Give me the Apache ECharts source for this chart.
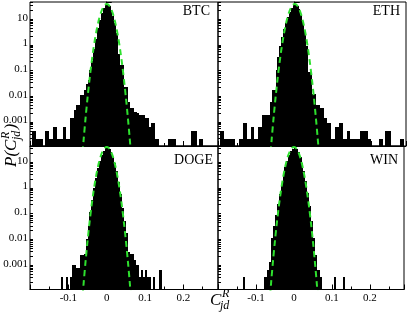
<!DOCTYPE html>
<html><head><meta charset="utf-8">
<script src="https://cdn.jsdelivr.net/npm/echarts@6/dist/echarts.min.js"></script>
<style>html,body{margin:0;padding:0;background:#fff}#c{width:407px;height:315px}</style>
</head><body><div id="c"></div>
<script>
// ---- data (bin left edge, probability density) ----
const BIN = 0.005;
const coins = ['BTC', 'ETH', 'DOGE', 'WIN'];
const btcBins = [[-0.195,3.8e-4],[-0.19,3.8e-4],[-0.185,1.8e-4],[-0.18,1.8e-4],[-0.175,1.8e-4],[-0.17,1.8e-4],
 [-0.16,3.8e-4],[-0.155,3.8e-4],[-0.15,1.8e-4],[-0.145,1.8e-4],[-0.14,5.6e-4],[-0.135,5.6e-4],[-0.13,1.8e-4],
 [-0.125,1.8e-4],[-0.12,1.8e-4],[-0.115,5.6e-4],[-0.11,5.6e-4],[-0.105,1.8e-4],[-0.1,1.8e-4],[-0.095,1.2e-3],
 [-0.09,1.2e-3],[-0.085,2.5e-3],[-0.08,3.9e-3],[-0.075,3.9e-3],[-0.07,9.5e-3],[-0.065,9.5e-3],[-0.06,0.015],
 [-0.055,0.025],[-0.05,0.036],[-0.045,0.09],[-0.04,0.215],[-0.035,0.6],[-0.03,1.5],[-0.025,4],[-0.02,8],
 [-0.015,15],[-0.01,24],[-0.005,32],[0,34],[0.005,28],[0.01,20],[0.015,12],[0.02,6],[0.025,2.5],[0.03,0.4],
 [0.035,0.138],[0.04,0.138],[0.045,0.02],[0.05,0.02],[0.055,0.0052],[0.06,0.0029],[0.065,0.0029],[0.07,0.0021],
 [0.075,0.0021],[0.08,0.0019],[0.085,0.0016],[0.09,0.0016],[0.095,0.0016],[0.1,0.0012],[0.105,0.0012],
 [0.11,5.6e-4],[0.115,8e-4],[0.12,8e-4],[0.125,1.8e-4],[0.13,1.8e-4],[0.16,1.8e-4],[0.165,1.8e-4],
 [0.17,1.8e-4],[0.175,1.8e-4],[0.22,3.8e-4],[0.225,3.8e-4],[0.23,3.8e-4],[0.24,1.8e-4],[0.245,1.8e-4]];
const ethBins = [[-0.195,3.8e-4],[-0.19,3.8e-4],[-0.185,1.8e-4],[-0.18,1.8e-4],[-0.175,1.8e-4],[-0.17,1.8e-4],
 [-0.165,1.8e-4],[-0.16,1.8e-4],[-0.145,1.8e-4],[-0.14,1.8e-4],[-0.135,8e-4],[-0.13,8e-4],[-0.125,1.8e-4],
 [-0.12,1.8e-4],[-0.115,5.6e-4],[-0.11,5.6e-4],[-0.105,1.8e-4],[-0.1,1.8e-4],[-0.095,5.6e-4],[-0.09,5.6e-4],
 [-0.085,1.6e-3],[-0.08,1.6e-3],[-0.075,1.6e-3],[-0.07,1.6e-3],[-0.065,5e-3],[-0.06,0.0148],[-0.055,0.0148],
 [-0.05,0.093],[-0.045,0.3],[-0.04,0.82],[-0.035,1.8],[-0.03,3.5],[-0.025,6.5],[-0.02,11],[-0.015,17],
 [-0.01,25],[-0.005,32],[0,34],[0.005,29],[0.01,21],[0.015,13],[0.02,7],[0.025,3],[0.03,0.82],[0.035,0.076],
 [0.04,0.076],[0.045,0.011],[0.05,0.011],[0.055,0.0039],[0.06,0.0039],[0.065,0.0029],[0.07,0.0029],
 [0.075,1.2e-3],[0.08,1.2e-3],[0.085,8e-4],[0.09,8e-4],[0.095,1.8e-4],[0.1,1.8e-4],[0.105,5.6e-4],
 [0.11,5.6e-4],[0.115,8e-4],[0.12,8e-4],[0.125,1.8e-4],[0.13,1.8e-4],[0.135,3.8e-4],[0.14,3.8e-4],
 [0.145,1.8e-4],[0.15,1.8e-4],[0.155,1.8e-4],[0.16,1.8e-4],[0.165,1.8e-4],[0.17,3.8e-4],[0.175,3.8e-4],
 [0.18,3.8e-4],[0.185,3.8e-4],[0.19,1.8e-4],[0.195,1.8e-4],[0.22,1.8e-4],[0.225,1.8e-4],[0.235,3.8e-4],
 [0.24,3.8e-4],[0.245,3.8e-4],[0.275,1.8e-4],[0.28,1.8e-4]];
const dogeBins = [[-0.12,3e-4],[-0.105,3e-4],[-0.095,3e-4],[-0.09,8.8e-4],[-0.085,8.8e-4],[-0.08,7e-4],
 [-0.075,7e-4],[-0.07,2.1e-3],[-0.065,2.1e-3],[-0.06,2.4e-3],[-0.055,9.5e-3],[-0.05,0.03],[-0.045,0.1],
 [-0.04,0.3],[-0.035,0.9],[-0.03,2.2],[-0.025,5],[-0.02,9.5],[-0.015,16],[-0.01,24],[-0.005,30],[0,32],
 [0.005,29],[0.01,22],[0.015,14],[0.02,8],[0.025,3.8],[0.03,1.5],[0.035,0.5],[0.04,0.15],[0.045,0.045],
 [0.05,0.015],[0.055,2.9e-3],[0.06,2.4e-3],[0.065,2.4e-3],[0.07,1.4e-3],[0.075,8.8e-4],[0.08,8.8e-4],
 [0.085,3e-4],[0.09,5.5e-4],[0.095,3e-4],[0.1,5.5e-4],[0.105,3e-4],[0.11,3e-4],[0.12,3e-4],[0.135,5.5e-4],
 [0.14,5.5e-4]];
const winBins = [[-0.135,3e-4],[-0.08,3e-4],[-0.075,3e-4],[-0.07,5.5e-4],[-0.065,1.2e-3],[-0.06,0.01],
 [-0.055,0.03],[-0.05,0.08],[-0.045,0.2],[-0.04,0.5],[-0.035,1.2],[-0.03,2.6],[-0.025,5.5],[-0.02,10],
 [-0.015,16],[-0.01,23],[-0.005,29],[0,32],[0.005,29],[0.01,22],[0.015,14],[0.02,8],[0.025,4],[0.03,1.6],
 [0.035,0.55],[0.04,0.17],[0.045,0.045],[0.05,0.01],[0.055,2.1e-3],[0.06,5.5e-4],[0.065,5.5e-4],
 [0.07,3e-4],[0.105,3e-4],[0.13,3e-4]];
// Gaussian fit (dashed green)
const fitX = [-0.065,-0.06,-0.055,-0.05,-0.045,-0.04,-0.035,-0.03,-0.025,-0.02,-0.015,-0.01,-0.005,0,
  0.005,0.01,0.015,0.02,0.025,0.03,0.035,0.04,0.045,0.05,0.055,0.06,0.065];
const fitP = [2.3e-5,1.9e-4,1.31e-3,7.65e-3,0.0378,0.157,0.555,1.66,4.17,8.87,16.0,24.3,31.3,34,
  31.3,24.3,16.0,8.87,4.17,1.66,0.555,0.157,0.0378,7.65e-3,1.31e-3,1.9e-4,2.3e-5];
const xTickValues = [-0.1, 0, 0.1, 0.2];
const xTickLabels = ['-0.1', '0', '0.1', '0.2'];
const yTickExps = [-3, -2, -1, 0, 1];
const yTickLabels = ['0.001', '0.01', '0.1', '1', '10'];
const minorMantissa = [2, 3, 4, 5, 6, 7, 8, 9];

const allBins = [btcBins, ethBins, dogeBins, winBins];
const X_MIN = -0.2, X_MAX = 0.29, Y_MIN = 1e-4;
const yMax = [41, 41, 37, 37];
const grids = [
  {left: 30, top: 2, width: 188, height: 144},
  {left: 218, top: 2, width: 188, height: 144},
  {left: 30, top: 146, width: 188, height: 143.5},
  {left: 218, top: 146, width: 188, height: 143.5}
];
const FONT = '"Liberation Serif", "DejaVu Serif", serif';

const chart = echarts.init(document.getElementById('c'), null, {renderer: 'canvas'});
const xAxes = [], yAxes = [], series = [];
for (let i = 0; i < 4; i++) {
  xAxes.push({
    type: 'value', gridIndex: i, min: X_MIN, max: X_MAX, interval: 0.1,
    axisLine: {show: true, onZero: false, lineStyle: {color: '#000', width: 1}},
    axisTick: {show: true, inside: true, length: 5, lineStyle: {color: '#000', width: 1}},
    minorTick: {show: true, splitNumber: 2, length: 3, lineStyle: {color: '#000', width: 1}},
    splitLine: {show: false},
    axisLabel: {
      show: i >= 2, margin: 3, color: '#000', fontFamily: FONT, fontSize: 11,
      formatter: v => {
        const k = xTickValues.findIndex(t => Math.abs(t - v) < 1e-6);
        return k >= 0 ? xTickLabels[k] : '';
      }
    }
  });
  yAxes.push({
    type: 'log', logBase: 10, gridIndex: i, min: Y_MIN, max: yMax[i],
    axisLine: {show: true, lineStyle: {color: '#000', width: 1}},
    axisTick: {show: true, inside: true, length: 5, lineStyle: {color: '#000', width: 1}},
    splitLine: {show: false},
    axisLabel: {
      show: i % 2 === 0, margin: 2, color: '#000', fontFamily: FONT, fontSize: 11,
      formatter: v => {
        const e = Math.log10(v), r = Math.round(e);
        if (Math.abs(e - r) > 1e-6) return '';
        const k = yTickExps.indexOf(r);
        return k >= 0 ? yTickLabels[k] : '';
      }
    }
  });
  // histogram bars (edges snapped to whole pixels so neighbouring bins join without seams)
  series.push({
    type: 'custom', xAxisIndex: i, yAxisIndex: i, clip: true, z: 2,
    data: allBins[i].map(b => [b[0], b[0] + BIN, b[1]]),
    encode: {x: [0, 1], y: 2},
    renderItem: (params, api) => {
      const p0 = api.coord([api.value(0), api.value(2)]);
      const p1 = api.coord([api.value(1), Y_MIN]);
      const x0 = Math.round(p0[0]), x1 = Math.round(p1[0]);
      const y0 = Math.round(p0[1]), y1 = Math.round(p1[1]);
      return {
        type: 'rect',
        shape: {x: x0, y: y0, width: x1 - x0, height: y1 - y0},
        style: {fill: '#000'}
      };
    }
  });
  // log minor ticks on the y axis
  const minors = [];
  for (let d = -4; d <= 1; d++) minorMantissa.forEach(m => { const v = m * Math.pow(10, d); if (v < yMax[i]) minors.push([X_MIN, v]); });
  series.push({
    type: 'custom', xAxisIndex: i, yAxisIndex: i, z: 1, silent: true,
    data: minors, encode: {x: 0, y: 1},
    renderItem: (params, api) => {
      const p = api.coord([api.value(0), api.value(1)]);
      const y = Math.round(p[1]) + 0.5;
      return {type: 'line', shape: {x1: p[0], y1: y, x2: p[0] + 3, y2: y}, style: {stroke: '#000', lineWidth: 1}};
    }
  });
  // Gaussian fit
  series.push({
    type: 'line', xAxisIndex: i, yAxisIndex: i, z: 5, clip: true,
    data: fitX.map((x, j) => [x, fitP[j]]),
    showSymbol: false, smooth: 0.3,
    lineStyle: {color: '#2ee02e', width: 2, type: [6, 4]}
  });
}

const labelPos = [[210, 11.5], [400, 11.5], [213, 160], [398, 160]];
const graphic = coins.map((c, i) => ({
  type: 'text', x: labelPos[i][0], y: labelPos[i][1],
  style: {text: c, font: '14px ' + FONT, fill: '#000', align: 'right', verticalAlign: 'middle'}
}));
const IT = 'italic 17px ' + FONT, ITS = 'italic 12px ' + FONT;
// x axis title
graphic.push({type: 'text', x: 210, y: 301, style: {text: 'C', font: IT, fill: '#000', verticalAlign: 'middle'}});
graphic.push({type: 'text', x: 222, y: 294, style: {text: 'R', font: ITS, fill: '#000', verticalAlign: 'middle'}});
graphic.push({type: 'text', x: 220, y: 306, style: {text: 'jd', font: ITS, fill: '#000', verticalAlign: 'middle'}});
// y axis title (rotated)
graphic.push({
  type: 'group', x: 12, y: 167, rotation: Math.PI / 2,
  children: [
    {type: 'text', x: 0, y: 0, style: {text: 'P(C', font: IT, fill: '#000', verticalAlign: 'middle'}},
    {type: 'text', x: 28, y: -6, style: {text: 'R', font: ITS, fill: '#000', verticalAlign: 'middle'}},
    {type: 'text', x: 27, y: 5, style: {text: 'jd', font: ITS, fill: '#000', verticalAlign: 'middle'}},
    {type: 'text', x: 37.5, y: 0, style: {text: ')', font: IT, fill: '#000', verticalAlign: 'middle'}}
  ]
});

chart.setOption({
  animation: false,
  backgroundColor: '#fff',
  grid: grids.map(g => Object.assign({show: true, borderColor: '#000', borderWidth: 1, backgroundColor: 'transparent'}, g)),
  xAxis: xAxes, yAxis: yAxes, series, graphic
});
</script></body></html>
